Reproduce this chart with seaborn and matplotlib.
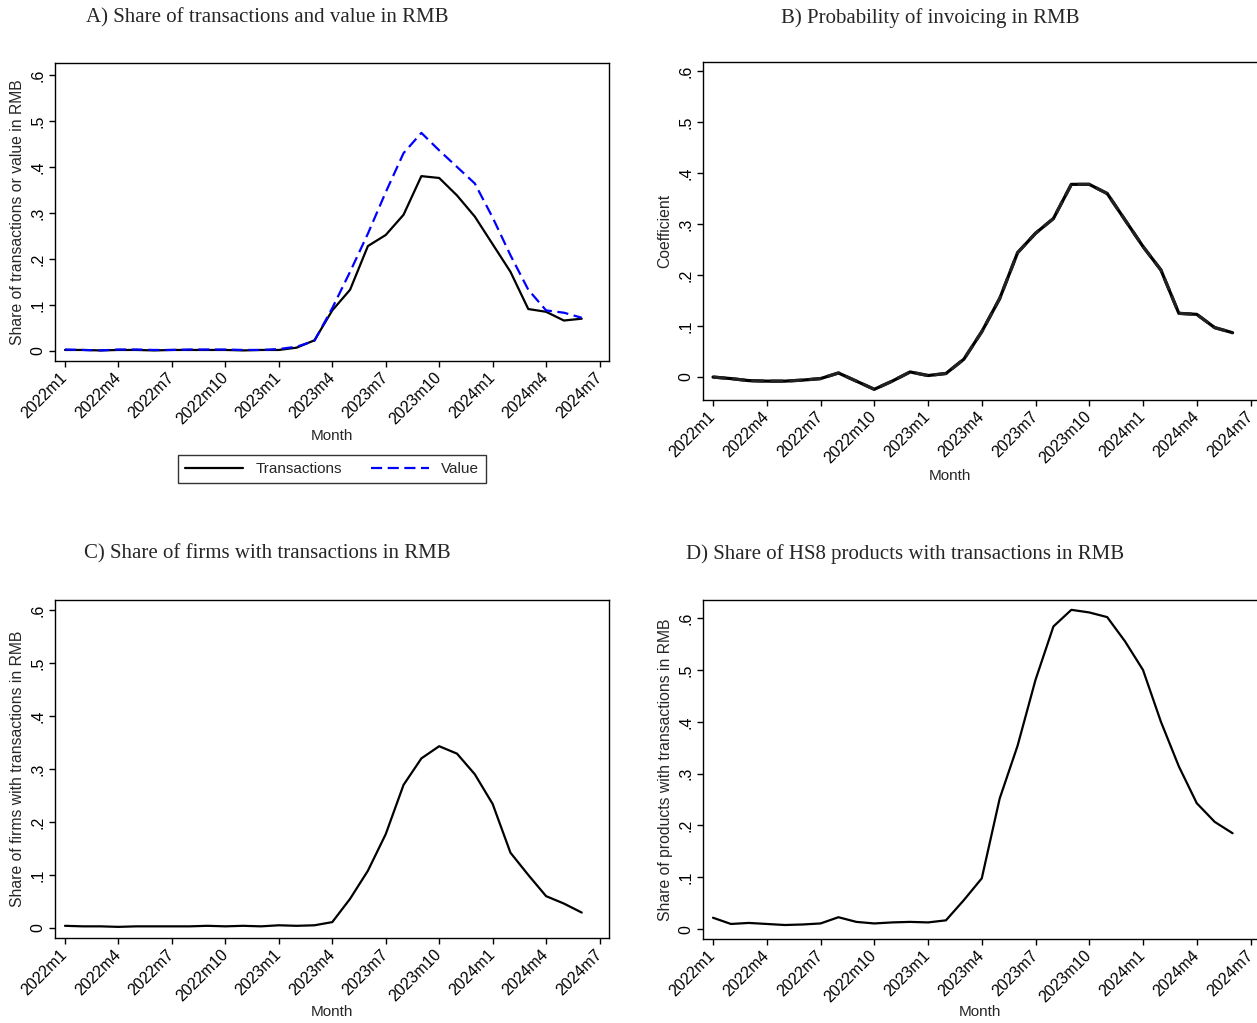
import numpy as np
import pandas as pd
import matplotlib
matplotlib.use("Agg")
import matplotlib.pyplot as plt
import seaborn as sns
from matplotlib.ticker import FuncFormatter

# ── Data ─────────────────────────────────────────────────────
months = ["2022m1", "2022m2", "2022m3", "2022m4", "2022m5", "2022m6",
          "2022m7", "2022m8", "2022m9", "2022m10", "2022m11", "2022m12",
          "2023m1", "2023m2", "2023m3", "2023m4", "2023m5", "2023m6",
          "2023m7", "2023m8", "2023m9", "2023m10", "2023m11", "2023m12",
          "2024m1", "2024m2", "2024m3", "2024m4", "2024m5", "2024m6"]
tick_labels = ["2022m1", "2022m4", "2022m7", "2022m10", "2023m1", "2023m4",
               "2023m7", "2023m10", "2024m1", "2024m4", "2024m7"]

share_transactions = [0.002, 0.002, 0.001, 0.002, 0.002, 0.001, 0.002, 0.002,
                      0.002, 0.002, 0.001, 0.002, 0.002, 0.007, 0.023, 0.088,
                      0.133, 0.228, 0.252, 0.296, 0.380, 0.376, 0.338, 0.292,
                      0.232, 0.172, 0.091, 0.085, 0.066, 0.070]
share_value = [0.003, 0.002, 0.001, 0.003, 0.003, 0.002, 0.002, 0.003,
               0.003, 0.003, 0.002, 0.002, 0.004, 0.009, 0.022, 0.093,
               0.172, 0.255, 0.345, 0.430, 0.474, 0.436, 0.400, 0.364,
               0.290, 0.208, 0.133, 0.088, 0.083, 0.072]
coef_invoicing = [0.000, -0.003, -0.007, -0.008, -0.008, -0.006, -0.003, 0.008,
                  -0.008, -0.024, -0.008, 0.010, 0.003, 0.007, 0.035, 0.089,
                  0.154, 0.244, 0.282, 0.311, 0.378, 0.378, 0.360, 0.308,
                  0.256, 0.210, 0.125, 0.123, 0.097, 0.087]
share_firms = [0.004, 0.003, 0.003, 0.002, 0.003, 0.003, 0.003, 0.003,
               0.004, 0.003, 0.004, 0.003, 0.005, 0.004, 0.005, 0.011,
               0.055, 0.108, 0.177, 0.270, 0.320, 0.343, 0.329, 0.290,
               0.234, 0.142, 0.100, 0.060, 0.046, 0.029]
share_products = [0.022, 0.010, 0.012, 0.010, 0.008, 0.009, 0.011, 0.023,
                  0.014, 0.011, 0.013, 0.014, 0.013, 0.017, 0.056, 0.098,
                  0.252, 0.354, 0.481, 0.584, 0.616, 0.611, 0.602, 0.555,
                  0.500, 0.400, 0.314, 0.243, 0.207, 0.185]

df = pd.DataFrame({
    "month": months,
    "t": np.arange(len(months)),
    "transactions": share_transactions,
    "value": share_value,
    "coef": coef_invoicing,
    "firms": share_firms,
    "products": share_products,
})

# ── Style ────────────────────────────────────────────────────
sns.set_theme(style="ticks")
plt.rcParams["font.family"] = ["Liberation Sans", "DejaVu Sans"]
plt.rcParams["axes.linewidth"] = 1.0
plt.rcParams["xtick.major.width"] = 1.0
plt.rcParams["ytick.major.width"] = 1.0
plt.rcParams["xtick.major.size"] = 4
plt.rcParams["ytick.major.size"] = 4

W, H = 1257, 1023
fig = plt.figure(figsize=(W / 100, H / 100), dpi=100)


def px_axes(left, top, right, bottom):
    return fig.add_axes([left / W, 1 - bottom / H, (right - left) / W, (bottom - top) / H])


def stata_fmt(v, pos):
    if abs(v) < 1e-9:
        return "0"
    return f"{v:.1f}".replace("0.", ".")


def style_axes(ax, ylim, ylabel):
    ax.set_xlim(-0.56, 30.53)
    ax.set_ylim(*ylim)
    ax.set_xticks(np.arange(0, 31, 3))
    ax.set_xticklabels(tick_labels, rotation=45, ha="right", va="center",
                       rotation_mode="anchor", fontsize=11.5)
    ax.set_yticks(np.arange(0, 0.61, 0.1))
    ax.yaxis.set_major_formatter(FuncFormatter(stata_fmt))
    for lab in ax.get_yticklabels():
        lab.set_rotation(90)
        lab.set_va("center")
        lab.set_fontsize(11.5)
    ax.set_xlabel("")
    ax.set_ylabel(ylabel, fontsize=11.3)
    ax.tick_params(colors="black", pad=3)
    ax.tick_params(axis="x", pad=6)
    for s in ax.spines.values():
        s.set_color("black")


title_kw = dict(family=["Liberation Serif", "DejaVu Serif"], fontsize=15,
                ha="center", va="center")

# ── A) transactions and value ────────────────────────────────
axA = px_axes(55, 63, 609, 361)
sns.lineplot(data=df, x="t", y="transactions", ax=axA, color="black",
             linewidth=1.6, label="Transactions")
sns.lineplot(data=df, x="t", y="value", ax=axA, color="#0000FF",
             linewidth=1.6, linestyle=(0, (5, 2.5)), label="Value")
style_axes(axA, (-0.022, 0.626), "Share of transactions or value in RMB")
axA.legend(loc="center", bbox_to_anchor=(332 / W, 1 - 469 / H),
           bbox_transform=fig.transFigure, ncol=2, frameon=True,
           fancybox=False, edgecolor="black", fontsize=11,
           handlelength=3.8, columnspacing=1.9, borderpad=0.45)
axA.get_legend().get_frame().set_linewidth(1.0)
fig.text(332 / W, 1 - 436 / H, "Month", ha="center", va="center", fontsize=11)

# ── B) probability of invoicing ──────────────────────────────
axB = px_axes(703, 62, 1260, 400)
sns.lineplot(data=df, x="t", y="coef", ax=axB, color="black", linewidth=2.3)
sns.lineplot(data=df, x="t", y="coef", ax=axB, color="#222222",
             linewidth=2.3, linestyle=(0, (4, 2)))
style_axes(axB, (-0.045, 0.618), "Coefficient")
fig.text(950 / W, 1 - 476 / H, "Month", ha="center", va="center", fontsize=11)

# ── C) firms ─────────────────────────────────────────────────
axC = px_axes(55, 600, 609, 938)
sns.lineplot(data=df, x="t", y="firms", ax=axC, color="black", linewidth=1.6)
style_axes(axC, (-0.019, 0.619), "Share of firms with transactions in RMB")
fig.text(332 / W, 1 - 1012 / H, "Month", ha="center", va="center", fontsize=11)

# ── D) products ──────────────────────────────────────────────
axD = px_axes(703, 600, 1260, 939)
sns.lineplot(data=df, x="t", y="products", ax=axD, color="black", linewidth=1.6)
style_axes(axD, (-0.019, 0.635), "Share of products with transactions in RMB")
fig.text(980 / W, 1 - 1012 / H, "Month", ha="center", va="center", fontsize=11)

for x, y, txt in [(267, 18, "A) Share of transactions and value in RMB"),
                  (930, 18, "B) Probability of invoicing in RMB"),
                  (267, 554, "C) Share of firms with transactions in RMB"),
                  (905, 554, "D) Share of HS8 products with transactions in RMB")]:
    fig.text(x / W, 1 - y / H, txt, **title_kw)

fig.savefig("out.png", dpi=100, facecolor="white")
